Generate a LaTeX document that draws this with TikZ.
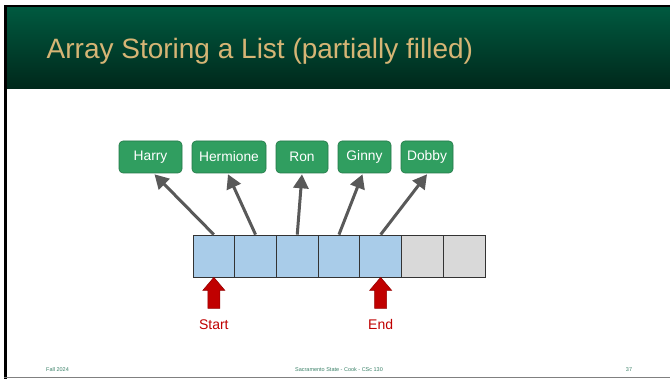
\documentclass[tikz,border=0pt]{standalone}
\usepackage{fontspec}
\setmainfont{Liberation Sans}
\usetikzlibrary{arrows.meta,calc}
\definecolor{hdtop}{RGB}{0,90,64}
\definecolor{hdbot}{RGB}{0,40,27}
\definecolor{titlecol}{RGB}{214,181,117}
\definecolor{boxfill}{RGB}{48,158,96}
\definecolor{boxdraw}{RGB}{36,120,72}
\definecolor{cellblue}{RGB}{169,204,233}
\definecolor{cellgray}{RGB}{217,217,217}
\definecolor{arrgray}{RGB}{89,89,89}
\definecolor{redfill}{RGB}{192,0,0}
\definecolor{reddraw}{RGB}{150,0,0}
\definecolor{footcol}{RGB}{60,130,105}
\begin{document}
\begin{tikzpicture}[x=1pt,y=-1pt,
 namebox/.style={draw=boxdraw, fill=boxfill, rounded corners=4pt, text=white, font=\fontsize{13.8}{15}\selectfont, minimum height=32pt, inner sep=0pt, line width=0.6pt},
 cell/.style={draw=black!80, minimum width=41.7pt, minimum height=42pt, inner sep=0pt, line width=0.8pt},
 ptr/.style={draw=arrgray, line width=3pt, -{Triangle[length=14pt,width=15pt]}},
 redarrow/.style={fill=redfill, draw=reddraw, line width=0.6pt},
 redlabel/.style={text=redfill, font=\fontsize{14}{16}\selectfont, inner sep=0pt},
 foot/.style={text=footcol, font=\fontsize{5.5}{6}\selectfont, inner sep=0pt, anchor=base}]
\useasboundingbox (0,0) rectangle (670,379);
\fill[white] (0,0) rectangle (670,379);
\shade[top color=hdtop, bottom color=hdbot] (6,6) rectangle (670,88.5);
\fill[black] (4,5) rectangle (670,7);
\fill[black] (4,5) rectangle (6.7,379);
\fill[gray] (4,377) rectangle (670,378.5);
\node[anchor=base west, inner sep=0pt, text=titlecol, font=\fontsize{28}{30}\selectfont] (title) at (46.5,58.5) {Array Storing a List (partially filled)};
% name boxes
\node[namebox, minimum width=63pt] (harry) at (150.5,157) {Harry};
\node[namebox, minimum width=74pt] (hermione) at (229,157) {Hermione};
\node[namebox, minimum width=52pt] (ron) at (302,157) {Ron};
\node[namebox, minimum width=53pt] (ginny) at (364.5,157) {Ginny};
\node[namebox, minimum width=52pt] (dobby) at (427,157) {Dobby};
% array cells
\node[cell, fill=cellblue] (c1) at (213.85,256) {};
\node[cell, fill=cellblue] (c2) at (255.55,256) {};
\node[cell, fill=cellblue] (c3) at (297.25,256) {};
\node[cell, fill=cellblue] (c4) at (338.95,256) {};
\node[cell, fill=cellblue] (c5) at (380.65,256) {};
\node[cell, fill=cellgray] (c6) at (422.35,256) {};
\node[cell, fill=cellgray] (c7) at (464.05,256) {};
% pointers
\draw[ptr] (c1.north) -- ($(harry.south)+(4,1)$);
\draw[ptr] (c2.north) -- ($(hermione.south)+(-1,1)$);
\draw[ptr] (c3.north) -- ($(ron.south)+(0,1)$);
\draw[ptr] (c4.north) -- ($(ginny.south)+(-2,1)$);
\draw[ptr] (c5.north) -- ($(dobby.south)+(0,1)$);
% red block arrows
\draw[redarrow] (c1.south) -- ++(11,13) -- ++(-5,0) -- ++(0,18) -- ++(-12,0) -- ++(0,-18) -- ++(-5,0) -- cycle;
\draw[redarrow] (c5.south) -- ++(11,13) -- ++(-5,0) -- ++(0,18) -- ++(-12,0) -- ++(0,-18) -- ++(-5,0) -- cycle;
\node[redlabel] (start) at ($(c1.south)+(0,47)$) {Start};
\node[redlabel] (end) at ($(c5.south)+(0,47)$) {End};
% footer
\node[foot, anchor=base west] (f1) at (46,372) {Fall 2024};
\node[foot] (f2) at (339,372) {Sacramento State - Cook - CSc 130};
\node[foot] (f3) at (629,372) {37};
\end{tikzpicture}
\end{document}
